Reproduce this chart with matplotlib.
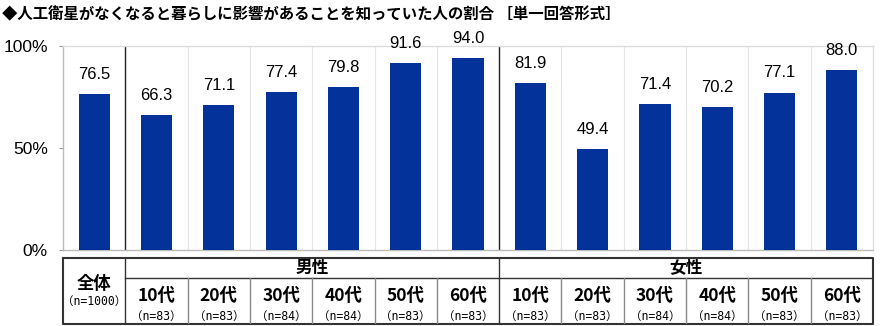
import matplotlib.pyplot as plt
from matplotlib.lines import Line2D

plt.rcParams['font.family'] = ['Noto Sans CJK JP', 'DejaVu Sans']

title = "◆人工衛星がなくなると暮らしに影響があることを知っていた人の割合 ［単一回答形式］"
groups = ["全体", "男性", "女性"]
ages = ["10代", "20代", "30代", "40代", "50代", "60代"]
total_value = 76.5
male_values = [66.3, 71.1, 77.4, 79.8, 91.6, 94.0]
female_values = [81.9, 49.4, 71.4, 70.2, 77.1, 88.0]
total_n = 1000
male_n = [83, 83, 84, 84, 83, 83]
female_n = [83, 83, 84, 84, 83, 83]

values = [total_value] + male_values + female_values
ncol = len(values)

W, H = 880, 326
fig = plt.figure(figsize=(W / 100, H / 100), dpi=100)

def fx(px):
    return px / W

def fy(py):
    return 1 - py / H

left, right = 63, 873
top, bottom = 46, 250
ax = fig.add_axes([fx(left), fy(bottom), fx(right - left), (bottom - top) / H])

bar_color = '#03339A'
num_font = ['Liberation Sans', 'DejaVu Sans']
n_font = ['DejaVu Sans Mono', 'Noto Sans CJK JP']
xs = [i + 0.5 for i in range(ncol)]
ax.bar(xs, values, width=0.5, color=bar_color, zorder=3)
for x, v in zip(xs, values):
    ax.text(x, v + 6, f"{v:.1f}", ha='center', va='bottom', fontsize=12,
            family=num_font, clip_on=False)

ax.set_xlim(0, ncol)
ax.set_ylim(0, 100)
ax.set_xticks([])
ax.set_yticks([0, 50, 100])
ax.set_yticklabels(["0%", "50%", "100%"], family=num_font, fontsize=12.5)
ax.tick_params(axis='y', length=3, color='#999999', pad=8)
for s in ['top', 'right', 'left', 'bottom']:
    ax.spines[s].set_color('#BBBBBB')
    ax.spines[s].set_linewidth(1)
ax.spines['top'].set_color('#DDDDDD')
ax.spines['right'].set_color('#DDDDDD')

# column dividers: light inside groups, dark between groups
for i in range(1, ncol):
    if i in (1, 7):
        ax.axvline(i, color='#222222', lw=1, zorder=2)
    else:
        ax.axvline(i, color='#E4E4E4', lw=0.8, zorder=1)

# header table under the bars
t_top, t_mid, t_bot = 258, 278, 324
tab = fig.add_axes([fx(left), fy(t_bot), fx(right - left), (t_bot - t_top) / H])
tab.set_xlim(0, ncol)
tab.set_ylim(t_bot, t_top)
tab.axis('off')

dark = '#333333'
light = '#888888'
tab.add_line(Line2D([0, ncol, ncol, 0, 0], [t_top, t_top, t_bot, t_bot, t_top],
                    color=dark, lw=1.5, clip_on=False))
tab.add_line(Line2D([1, ncol], [t_mid, t_mid], color=dark, lw=1))
for i in (1, 7):
    tab.add_line(Line2D([i, i], [t_top, t_bot], color=dark, lw=1))
for i in range(2, ncol):
    if i != 7:
        tab.add_line(Line2D([i, i], [t_mid, t_bot], color=light, lw=1))

tab.text(0.5, 284, groups[0], ha='center', va='center', fontsize=12.5, fontweight='bold')
tab.text(0.5, 301, f"（n={total_n}）", ha='center', va='center', fontsize=8.3,
         family=n_font)
tab.text(4, (t_top + t_mid) / 2, groups[1], ha='center', va='center',
         fontsize=12, fontweight='bold')
tab.text(10, (t_top + t_mid) / 2, groups[2], ha='center', va='center',
         fontsize=12, fontweight='bold')
for j, (age, n) in enumerate(zip(ages + ages, male_n + female_n)):
    x = j + 1.5
    tab.text(x, 296, age, ha='center', va='center', fontsize=12.5, fontweight='bold')
    tab.text(x, 316, f"（n={n}）", ha='center', va='center', fontsize=8.3,
             family=n_font)

fig.text(fx(2), fy(14), title, ha='left', va='center', fontsize=11.1, fontweight='bold')

fig.savefig('out.png', dpi=100)
